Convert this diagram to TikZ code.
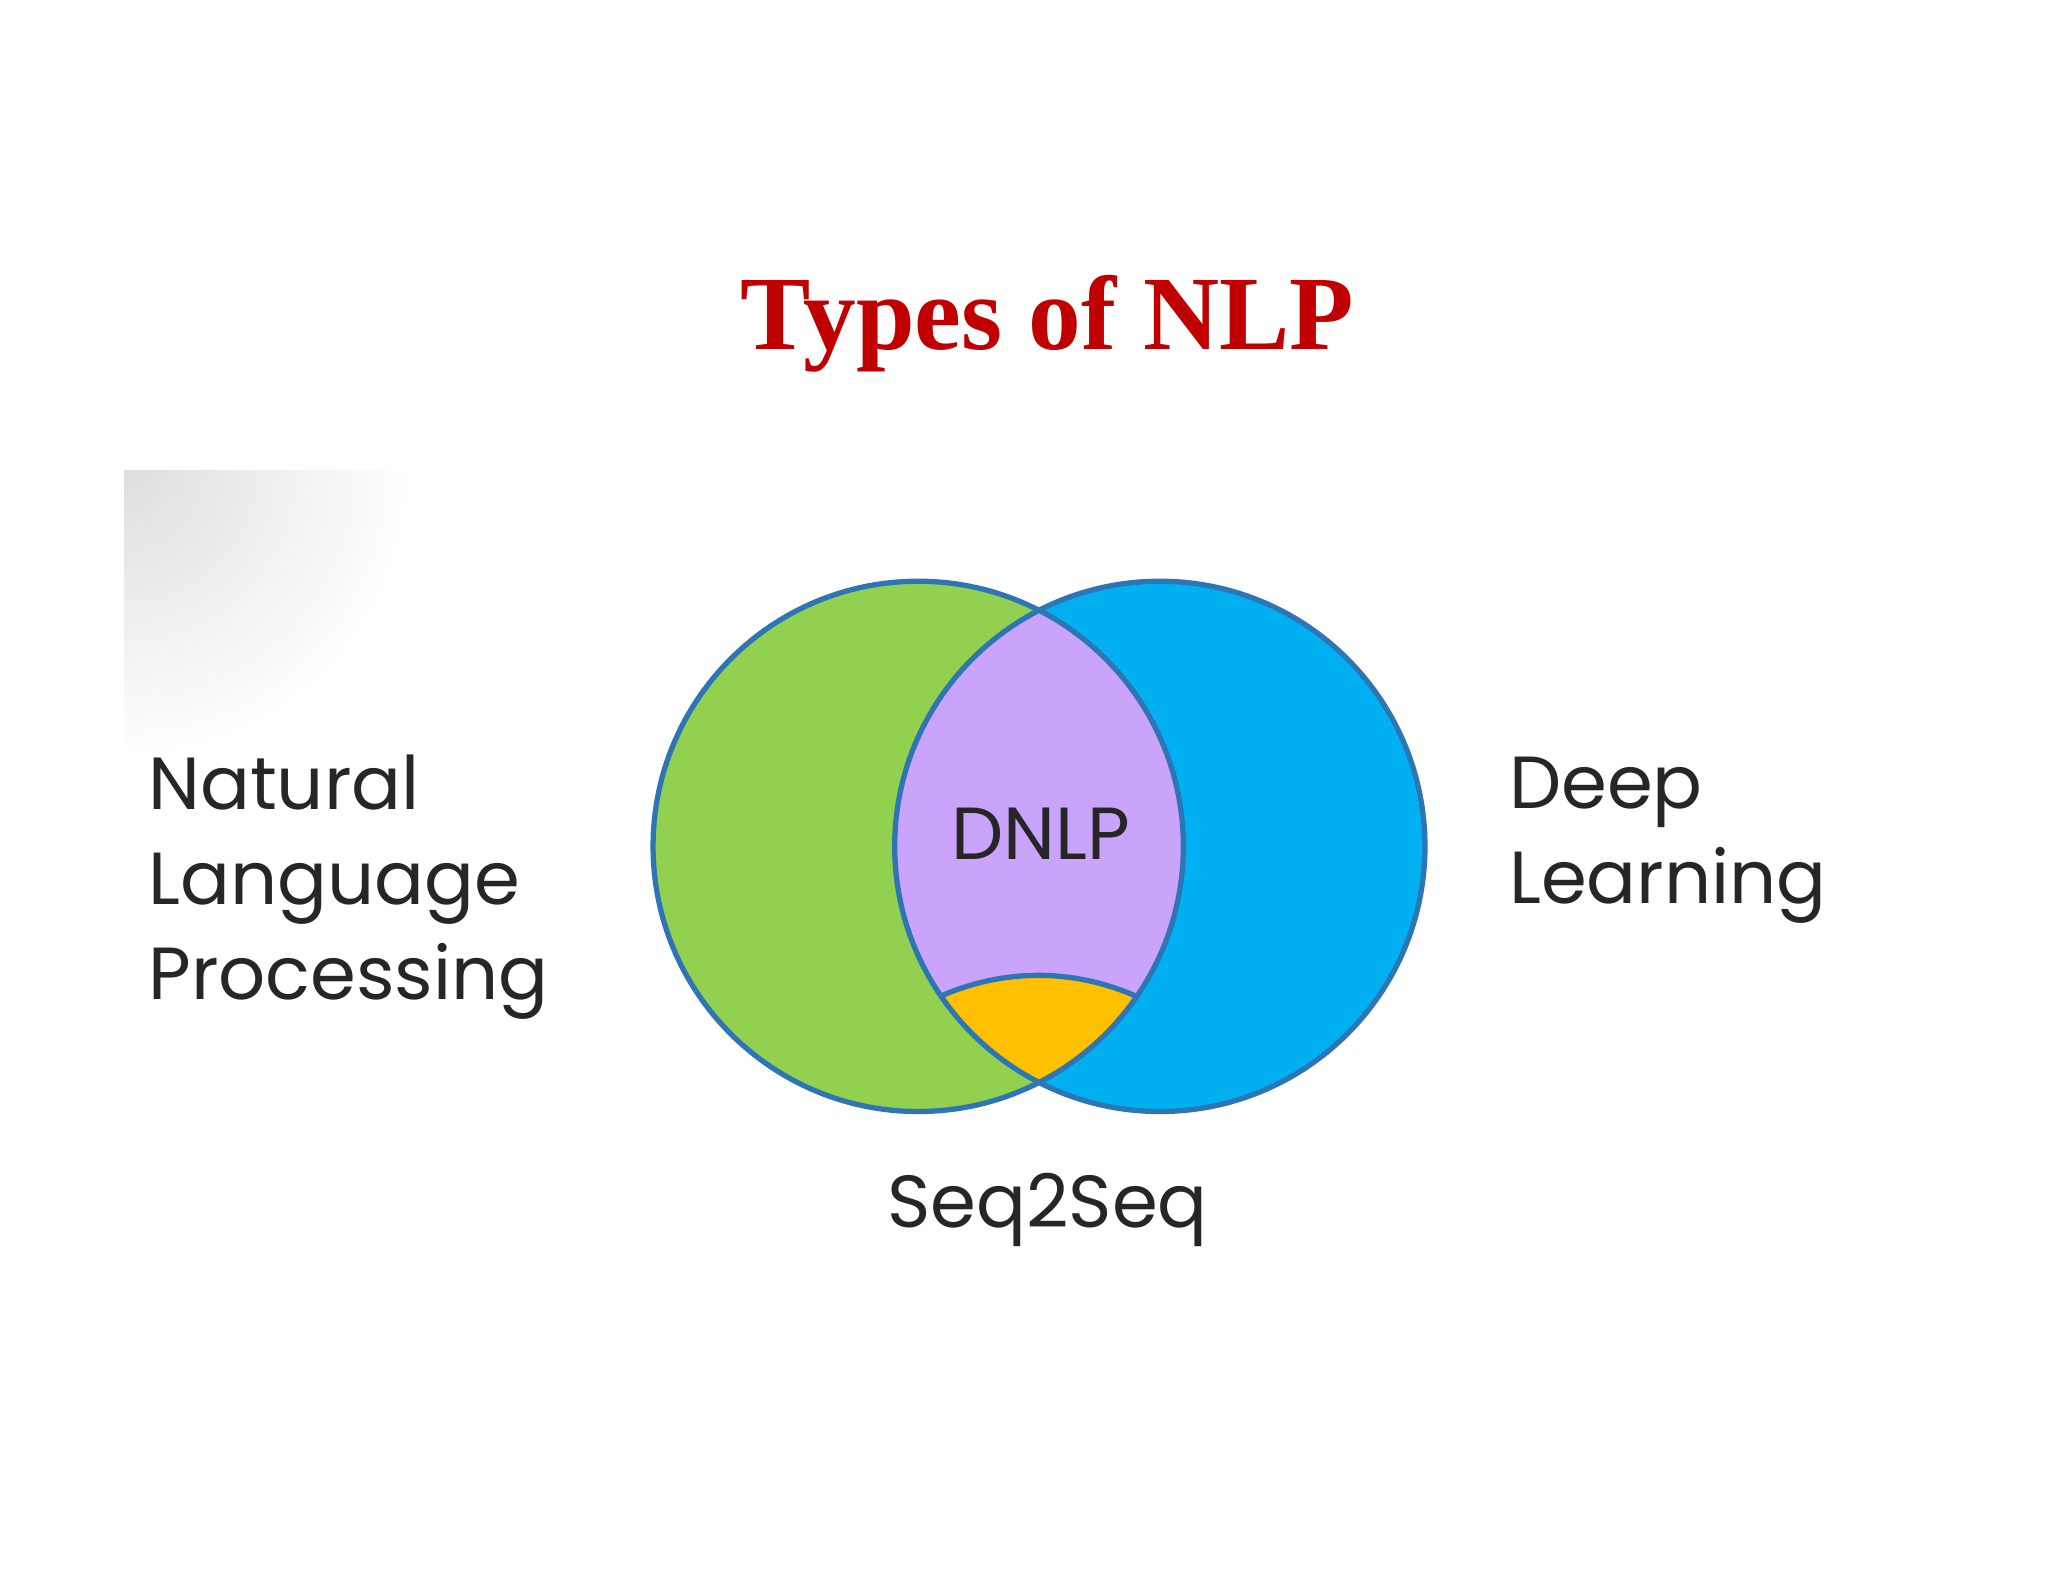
\documentclass[tikz,border=0pt]{standalone}
\usepackage{fontspec}
\setmainfont{Poppins}
\newfontfamily\titlefont{Liberation Serif}
\usetikzlibrary{positioning}
\definecolor{nlpgreen}{RGB}{146,208,80}
\definecolor{dlblue}{RGB}{0,176,240}
\definecolor{lenspurple}{RGB}{201,164,250}
\definecolor{seqyellow}{RGB}{255,192,0}
\definecolor{rimblue}{RGB}{46,117,182}
\definecolor{titlered}{RGB}{192,0,0}
\tikzset{
  label text/.style={font=\fontsize{21}{27}\selectfont, text=black!85, align=left, inner sep=0pt},
  rim/.style={draw=rimblue, line width=1.5pt}
}
\begin{document}
\begin{tikzpicture}[x=0.01306cm, y=-0.01306cm]

	\useasboundingbox (0,0) rectangle (1568,1211);
	\coordinate (G) at (703,648);
	\coordinate (B) at (888,648);

	% faint shading at the corner
	\begin{scope}
		\clip (95,360) rectangle (320,580);
		\shade[inner color=black!13, outer color=white] (95,360) circle (220);
	\end{scope}

	\fill[nlpgreen] (G) circle (203);
	\fill[dlblue] (B) circle (203);
	\begin{scope}
		\clip (G) circle (203);
		\fill[lenspurple] (B) circle (203);
		\clip (B) circle (203);
		\fill[seqyellow] (700,773) .. controls (760,738) and (830,738) .. (890,773) -- (890,900) -- (700,900) -- cycle;
		\draw[rim] (700,773) .. controls (760,738) and (830,738) .. (890,773);
	\end{scope}
	\draw[rim] (G) circle (203);
	\draw[rim] (B) circle (203);

	\node[font={\titlefont\bfseries\fontsize{30}{36}\selectfont}, text=titlered] (title) at (802,248) {Types of NLP};
	\node[label text, anchor=west] (nlp) at (113,679) {Natural\\Language\\Processing};
	\node[label text, anchor=west] (dl) at (1155,643) {Deep\\Learning};
	\node[label text] (dnlp) at (797,638) {DNLP};
	\node[label text] (seq) at (802,926) {Seq2Seq};

\end{tikzpicture}
\end{document}
